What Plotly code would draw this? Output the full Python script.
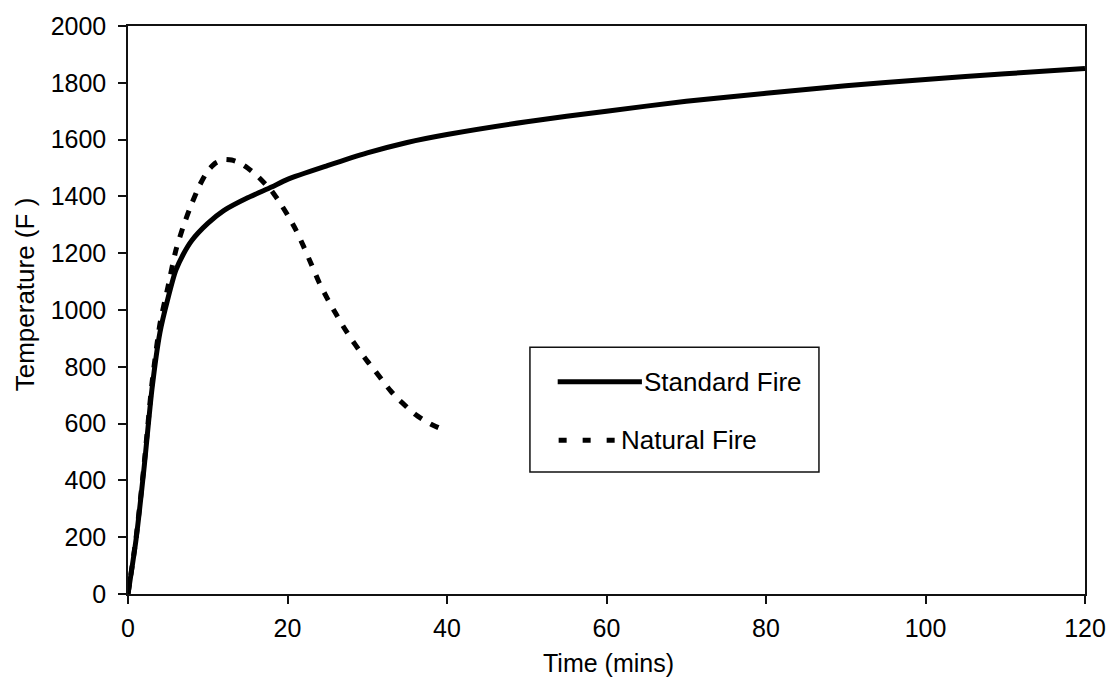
import plotly.graph_objects as go

# Standard (ASTM E119-type) fire curve
std_time = [0, 1, 2, 3, 4, 5, 6, 7, 8, 10, 12, 15, 18, 20, 25, 30, 35, 40, 50, 60, 70, 80, 90, 100, 110, 120]
std_temp = [0, 190, 440, 720, 920, 1040, 1140, 1200, 1245, 1305, 1350, 1395, 1433, 1460, 1508, 1553, 1590, 1618, 1663, 1700, 1735, 1763, 1790, 1812, 1832, 1850]

# Natural (compartment) fire curve
nat_time = [0, 1, 2, 3, 4, 5, 6, 7, 8, 9, 10, 11, 12, 13, 14, 15, 16, 17, 18, 19, 20,
            21, 22, 23, 24, 25, 26, 27, 28, 29, 30, 31, 32, 33, 34, 35, 36, 37, 38, 39]
nat_temp = [0, 195, 450, 740, 950, 1080, 1210, 1300, 1375, 1440, 1490, 1518, 1530, 1528, 1518, 1500, 1478, 1450, 1420, 1380, 1335,
            1285, 1225, 1160, 1095, 1040, 990, 942, 898, 858, 820, 785, 748, 713, 683, 658, 633, 614, 598, 585]

x_ticks = [0, 20, 40, 60, 80, 100, 120]
y_ticks = [0, 200, 400, 600, 800, 1000, 1200, 1400, 1600, 1800, 2000]

legend_names = ["Standard Fire", "Natural Fire"]

FONT = "Liberation Sans, Arial, sans-serif"
FS = 25

fig = go.Figure()
fig.add_trace(go.Scatter(x=std_time, y=std_temp, mode="lines", name=legend_names[0],
                         line=dict(color="black", width=5, shape="spline", smoothing=0.6),
                         showlegend=False))
fig.add_trace(go.Scatter(x=nat_time, y=nat_temp, mode="lines", name=legend_names[1],
                         line=dict(color="black", width=5, dash="9px,10px", shape="spline", smoothing=0.6),
                         showlegend=False))

axis_common = dict(
    showline=True, linecolor="#111", linewidth=1.5, mirror=True,
    ticks="outside", ticklen=8, tickwidth=1.5, tickcolor="#111",
    showgrid=False, zeroline=False,
    tickfont=dict(family=FONT, size=FS, color="black"),
)

fig.update_xaxes(range=[0, 120], tickvals=x_ticks, ticklabelstandoff=3, **axis_common)
fig.update_yaxes(range=[0, 2000], tickvals=y_ticks, ticklabelstandoff=7, **axis_common)

# Boxed legend drawn in paper coordinates
shapes = [
    dict(type="rect", xref="paper", yref="paper", x0=0.420, x1=0.722, y0=0.2147, y1=0.4346,
         line=dict(color="#111", width=1.5), fillcolor="white", layer="above"),
    dict(type="line", xref="paper", yref="paper", x0=0.449, x1=0.537, y0=0.3735, y1=0.3735,
         line=dict(color="black", width=5)),
    dict(type="line", xref="paper", yref="paper", x0=0.450, x1=0.509, y0=0.2705, y1=0.2705,
         line=dict(color="black", width=5, dash="8px,16px")),
]
annotations = [
    dict(text=legend_names[0], xref="paper", yref="paper", x=0.537, y=0.3735, xanchor="left",
         yanchor="middle", showarrow=False, font=dict(family=FONT, size=26, color="black")),
    dict(text=legend_names[1], xref="paper", yref="paper", x=0.513, y=0.2705, xanchor="left",
         yanchor="middle", showarrow=False, font=dict(family=FONT, size=26, color="black")),
    dict(text="Time (mins)", xref="paper", yref="paper", x=0.502, y=-0.121, xanchor="center",
         yanchor="middle", showarrow=False, font=dict(family=FONT, size=FS, color="black")),
    dict(text="Temperature (F )", xref="paper", yref="paper", x=-0.108, y=0.527, xanchor="center",
         yanchor="middle", textangle=-90, showarrow=False, font=dict(family=FONT, size=26, color="black")),
]

fig.update_layout(
    width=1120, height=694,
    margin=dict(l=128, r=35, t=21, b=100),
    paper_bgcolor="white", plot_bgcolor="white",
    shapes=shapes, annotations=annotations,
    showlegend=False,
)

fig.write_html("out.html")
